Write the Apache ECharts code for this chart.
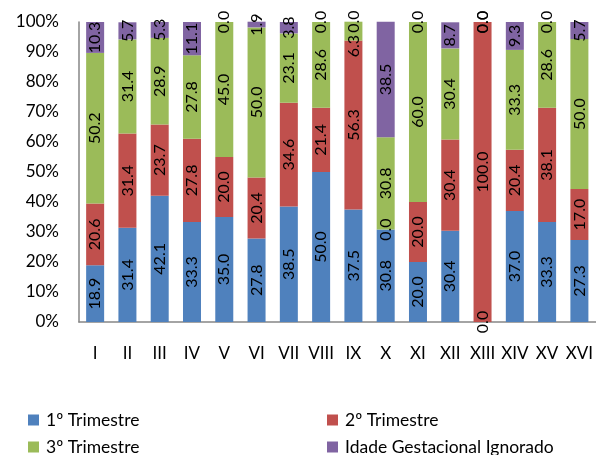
<!DOCTYPE html>
<html>
<head>
<meta charset="utf-8">
<script src="https://cdn.jsdelivr.net/npm/echarts@6/dist/echarts.min.js"></script>
<style>
  html, body { margin: 0; padding: 0; background: #fff; }
  #chart { width: 596px; height: 455px; }
</style>
</head>
<body>
<div id="chart"></div>
<script>
// Regions (Roman numerals) and share of each gestational-age group, in %
const categories = ['I', 'II', 'III', 'IV', 'V', 'VI', 'VII', 'VIII', 'IX', 'X', 'XI', 'XII', 'XIII', 'XIV', 'XV', 'XVI'];
const trim1 = [18.9, 31.4, 42.1, 33.3, 35.0, 27.8, 38.5, 50.0, 37.5, 30.8, 20.0, 30.4, 0.0, 37.0, 33.3, 27.3];
const trim2 = [20.6, 31.4, 23.7, 27.8, 20.0, 20.4, 34.6, 21.4, 56.3, 0.0, 20.0, 30.4, 100.0, 20.4, 38.1, 17.0];
const trim3 = [50.2, 31.4, 28.9, 27.8, 45.0, 50.0, 23.1, 28.6, 6.3, 30.8, 60.0, 30.4, 0.0, 33.3, 28.6, 50.0];
const ignorado = [10.3, 5.7, 5.3, 11.1, 0.0, 1.9, 3.8, 0.0, 0.0, 38.5, 0.0, 8.7, 0.0, 9.3, 0.0, 5.7];
const yTicks = [0, 10, 20, 30, 40, 50, 60, 70, 80, 90, 100];

const seriesNames = ['1º Trimestre', '2º Trimestre', '3º Trimestre', 'Idade Gestacional Ignorado'];
const seriesData = [trim1, trim2, trim3, ignorado];
const colors = ['#4F81BD', '#C0504D', '#9BBB59', '#8064A2'];

const FONT = 'Lato';

const chart = echarts.init(document.getElementById('chart'), null, { renderer: 'canvas' });

// A thin segment topped by a zero segment would have both labels on top of
// each other; push the thin segment's label down a little (the offset is in
// the rotated label's own frame, so -x means downwards on screen).
function buildData(si) {
  const vals = seriesData[si];
  const next = seriesData[si + 1];
  return vals.map((v, ci) => {
    if (next && v > 0 && v < 8 && next[ci] === 0) {
      return { value: v, label: { offset: [-15, 0] } };
    }
    return v;
  });
}

const series = seriesNames.map((name, i) => ({
  name: name,
  type: 'bar',
  stack: 'total',
  barWidth: 18,
  clip: false,
  data: buildData(i),
  itemStyle: { color: colors[i] },
  label: {
    show: true,
    position: 'inside',
    rotate: 90,
    color: '#000',
    fontFamily: FONT,
    fontSize: 16,
    formatter: p => Number(p.value).toFixed(1)
  },
  emphasis: { disabled: true },
  animation: false
}));

// two-by-two legend block under the axis
const legendPos = [
  { left: 23, top: 406 },
  { left: 322, top: 406 },
  { left: 23, top: 433 },
  { left: 322, top: 433 }
];

chart.setOption({
  backgroundColor: '#fff',
  animation: false,
  color: colors,
  grid: { left: 79, top: 22, width: 518, height: 300, containLabel: false },
  legend: seriesNames.map((name, i) => ({
    data: [name],
    left: legendPos[i].left,
    top: legendPos[i].top,
    icon: 'rect',
    itemWidth: 11,
    itemHeight: 11,
    itemGap: 6,
    textStyle: { fontFamily: FONT, fontSize: 17.5, color: '#000', padding: [0, 0, 0, 2] },
    selectedMode: false
  })),
  xAxis: {
    type: 'category',
    data: categories,
    axisLine: { show: true, lineStyle: { color: '#868686', width: 1.5 } },
    axisTick: { show: false },
    axisLabel: { color: '#000', fontFamily: FONT, fontSize: 17, margin: 23, interval: 0 }
  },
  yAxis: {
    type: 'value',
    min: yTicks[0],
    max: yTicks[yTicks.length - 1],
    interval: yTicks[1] - yTicks[0],
    axisLine: { show: true, lineStyle: { color: '#868686', width: 1.5 } },
    axisTick: { show: false },
    splitLine: { show: false },
    axisLabel: { color: '#000', fontFamily: FONT, fontSize: 17, margin: 20, formatter: '{value}%' }
  },
  series: series
});
</script>
</body>
</html>
